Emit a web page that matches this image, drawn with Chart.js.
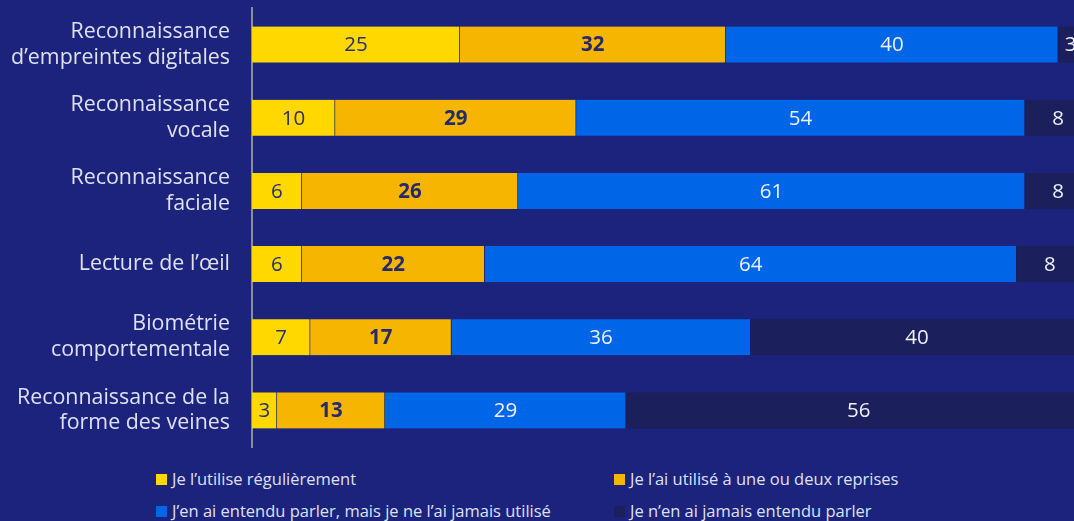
<!DOCTYPE html>
<html>
<head>
<meta charset="utf-8">
<script src="https://cdn.jsdelivr.net/npm/chart.js@4"></script>
<style>
  body { margin: 0; background: #1b237c; width: 1074px; height: 521px; overflow: hidden; font-family: "Open Sans", sans-serif; }
  #wrap { position: absolute; left: 0; top: 0; width: 1074px; height: 456px; }
  #legend { position: absolute; left: 156px; top: 467px; width: 918px; color: #dfe1f2; font-size: 16.5px; }
  .item { position: absolute; white-space: nowrap; }
  .box { display: inline-block; width: 11px; height: 11px; margin-right: 5px; vertical-align: 0px; }
</style>
</head>
<body>
<div id="wrap"><canvas id="chart"></canvas></div>
<div id="legend"></div>
<script>
const categories = [
    ["Reconnaissance", "d\u2019empreintes digitales"],
    ["Reconnaissance", "vocale"],
    ["Reconnaissance", "faciale"],
    "Lecture de l\u2019\u0153il",
    ["Biom\u00e9trie", "comportementale"],
    ["Reconnaissance de la", "forme des veines"]
];
const seriesNames = [
    "Je l\u2019utilise r\u00e9guli\u00e8rement",
    "Je l\u2019ai utilis\u00e9 \u00e0 une ou deux reprises",
    "J\u2019en ai entendu parler, mais je ne l\u2019ai jamais utilis\u00e9",
    "Je n\u2019en ai jamais entendu parler"
];
const regularly = [25, 10, 6, 6, 7, 3];
const onceOrTwice = [32, 29, 26, 22, 17, 13];
const heardNeverUsed = [40, 54, 61, 64, 36, 29];
const neverHeard = [3, 8, 8, 8, 40, 56];

const colors = ["#ffd800", "#f6b500", "#0066e8", "#1b1f5c"];
const labelColors = ["#2b2f6e", "#262a6a", "#eef0fb", "#eef0fb"];
const labelWeights = ["normal", "bold", "normal", "normal"];

const allSeries = [regularly, onceOrTwice, heardNeverUsed, neverHeard];

// value labels in the middle of each segment
const valueLabels = {
    id: "valueLabels",
    afterDatasetsDraw(chart) {
        const ctx = chart.ctx;
        ctx.save();
        ctx.textAlign = "center";
        ctx.textBaseline = "middle";
        chart.data.datasets.forEach((ds, i) => {
            const meta = chart.getDatasetMeta(i);
            meta.data.forEach((bar, j) => {
                const x = (bar.x + bar.base) / 2;
                ctx.font = labelWeights[i] + " 20.5px 'Open Sans', sans-serif";
                ctx.fillStyle = labelColors[i];
                ctx.fillText(ds.data[j], x, bar.y + 1);
            });
        });
        ctx.restore();
    }
};

new Chart(document.getElementById("chart"), {
    type: "bar",
    data: {
        labels: categories,
        datasets: allSeries.map((d, i) => ({
            label: seriesNames[i],
            data: d,
            backgroundColor: colors[i],
            borderColor: "rgba(20,20,60,0.25)",
            borderWidth: { right: 1 },
            borderSkipped: false,
            barThickness: 36
        }))
    },
    options: {
        indexAxis: "y",
        responsive: true,
        maintainAspectRatio: false,
        animation: false,
        layout: { padding: { top: 8, bottom: 9, right: 0, left: 0 } },
        plugins: { legend: { display: false }, tooltip: { enabled: false } },
        scales: {
            x: {
                stacked: true,
                min: 0,
                max: 98.9,
                display: false
            },
            y: {
                stacked: true,
                grid: { display: false, drawTicks: false },
                border: { display: true, color: "#8a8c9e", width: 2 },
                ticks: {
                    color: "#dfe1f2",
                    font: { family: "'Open Sans', sans-serif", size: 21.4, lineHeight: 1.21 },
                    padding: 22
                },
                afterFit(scale) {
                    scale.width = 252;
                    scale.paddingTop = 0;
                    scale.paddingBottom = 0;
                }
            }
        }
    },
    plugins: [valueLabels]
});

// legend, two columns
const legend = document.getElementById("legend");
const pos = [[0, 0], [458, 0], [0, 32], [458, 32]];
seriesNames.forEach((name, i) => {
    const el = document.createElement("div");
    el.className = "item";
    el.style.left = pos[i][0] + "px";
    el.style.top = pos[i][1] + "px";
    el.innerHTML = '<span class="box" style="background:' + colors[i] + '"></span>' + name;
    legend.appendChild(el);
});
</script>
</body>
</html>
